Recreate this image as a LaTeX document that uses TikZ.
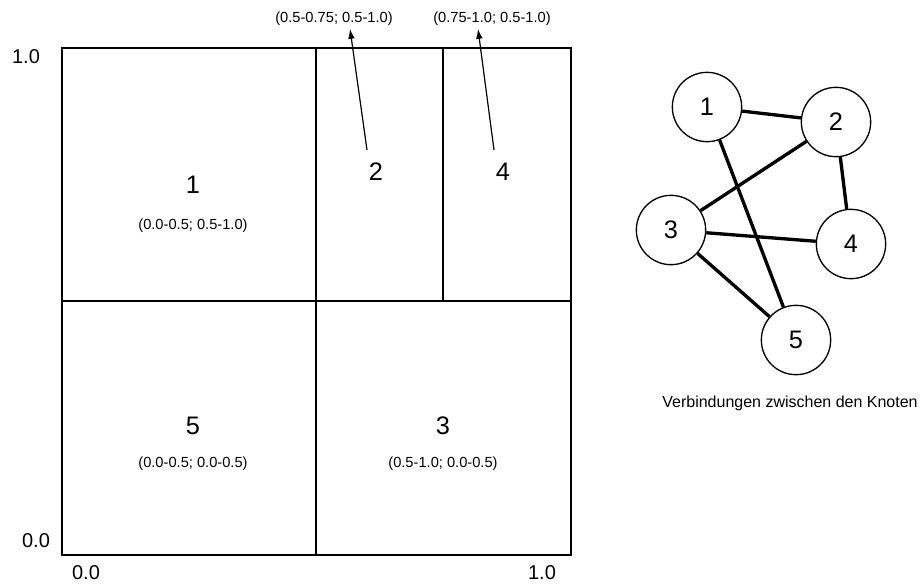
\documentclass[tikz,border=0pt]{standalone}
\usepackage{fontspec}
\setmainfont{Liberation Sans}
\usetikzlibrary{arrows.meta,positioning}

\begin{document}
\begin{tikzpicture}[
  x=0.75pt, y=-0.75pt,
  >=Latex,
  frame/.style={draw=black,line width=1.5pt},
  cellnum/.style={font=\fontsize{19}{22}\selectfont,inner sep=2pt},
  bereich/.style={font=\fontsize{11}{13}\selectfont,inner sep=2pt},
  axis/.style={font=\fontsize{15}{17}\selectfont,inner sep=1pt},
  knoten/.style={circle,draw=black,line width=1pt,fill=white,minimum size=52pt,
    inner sep=0pt,font=\fontsize{19}{22}\selectfont},
  kante/.style={line width=2.5pt},
  pointer/.style={-{Latex[length=7.5pt,width=5pt]},line width=0.9pt}
]
\useasboundingbox (0,0) rectangle (921,583);
% unit square, split into the five cells
\draw[frame] (62,48) rectangle (571,555);
\draw[frame] (316,48) -- (316,555);
\draw[frame] (62,301) -- (571,301);
\draw[frame] (443,48) -- (443,301);
% axis values
\node[axis] (ytop) at (26,57) {1.0};
\node[axis] (ybot) at (36,541) {0.0};
\node[axis] (xlft) at (86,573) {0.0};
\node[axis] (xrgt) at (542,573) {1.0};
% cell numbers
\foreach \n/\x/\y in {1/193/185,2/376/172,4/503/172,5/193/426,3/443/426}
  \node[cellnum] (c\n) at (\x,\y) {\n};
% ranges written inside the cells
\node[bereich] (r1) at (193,226) {(0.0-0.5; 0.5-1.0)};
\node[bereich] (r5) at (193,464) {(0.0-0.5; 0.0-0.5)};
\node[bereich] (r3) at (443,464) {(0.5-1.0; 0.0-0.5)};
% ranges of the two small cells, above the square
\node[bereich] (r2) at (334,19) {(0.5-0.75; 0.5-1.0)};
\node[bereich] (r4) at (492,19) {(0.75-1.0; 0.5-1.0)};
\coordinate (a2) at (367,150);
\coordinate (a4) at (494,150);
\draw[pointer] (a2) -- ([xshift=12pt]r2.south);
\draw[pointer] (a4) -- ([xshift=-10.5pt]r4.south);
% neighbour graph
\foreach \n/\x/\y in {1/707/107,2/836/122,3/671/230,4/851/244,5/796/340}
  \node[knoten] (k\n) at (\x,\y) {\n};
\foreach \a/\b in {1/2,2/3,2/4,3/4,3/5,1/5}
  \draw[kante] (k\a) -- (k\b);
\node[font=\fontsize{12}{14}\selectfont] (titel) at (790,403)
  {Verbindungen zwischen den Knoten};
\end{tikzpicture}
\end{document}
